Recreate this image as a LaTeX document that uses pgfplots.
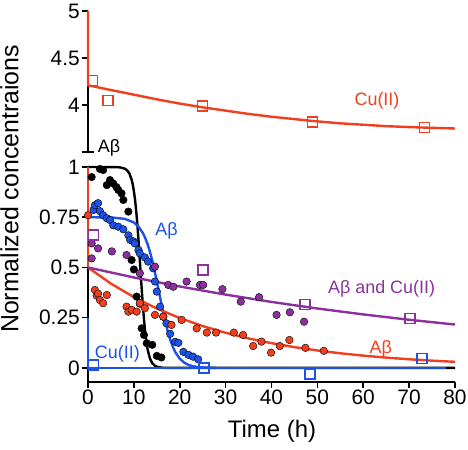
\documentclass[border=0pt]{standalone}
\usepackage{fontspec}
\setmainfont{Liberation Sans}
\usepackage{pgfplots}
\pgfplotsset{compat=1.18}
\definecolor{cred}{RGB}{240,62,30}
\definecolor{cblue}{RGB}{28,82,232}
\definecolor{cpurple}{RGB}{140,48,158}
\begin{document}
\begin{tikzpicture}
\pgfplotsset{
  base/.style={scale only axis, width=367bp, xmin=0, xmax=80, clip=false,
    axis line style={line width=1.6bp, black},
    tick style={line width=1.6bp, black},
    major tick length=6bp, tick align=outside,
    /pgf/number format/assume math mode=true,
    tick label style={font=\fontsize{21}{24}\selectfont},
    yticklabel style={inner xsep=2bp},
    xticklabel style={inner ysep=2bp},
  },
  dots/.style={only marks, mark=*, mark size=3.8bp, draw=none},
  sq/.style={only marks, mark=square, mark size=5bp, mark options={line width=1.4bp, fill=white}},
  fit/.style={no marks, line width=2.4bp},
}
% ---------------- lower axis ----------------
\begin{axis}[base, at={(88bp,68bp)}, anchor=south west, height=215bp,
  ymin=-0.07, ymax=1,
  axis x line*=bottom, axis y line*=left,
  xtick={0,10,20,30,40,50,60,70,80}, xticklabels={0,10,20,30,40,50,60,70,80},
  ytick={0,0.25,0.5,0.75,1}, yticklabels={0,0.25,0.5,0.75,1},
]
% dots
\addplot[dots, fill=black] coordinates {(0.8,0.95)(2.6,0.99)(3.3,0.985)(4.1,0.91)(4.8,0.935)(5.5,0.918)(6.2,0.90)(6.6,0.886)(7.3,0.869)(7.7,0.836)(8.8,0.778)(9.5,0.537)(10.0,0.49)(10.6,0.355)(11.3,0.32)(11.7,0.197)(12.2,0.164)(12.8,0.123)(14.0,0.115)(15.0,0.06)(16.0,0.052)};
\addplot[dots, fill=cblue] coordinates {(1.2,0.786)(1.5,0.81)(2.2,0.82)(2.6,0.78)(3.3,0.76)(4.1,0.745)(4.8,0.736)(5.5,0.71)(6.6,0.703)(7.7,0.69)(8.8,0.66)(9.2,0.637)(9.9,0.63)(10.2,0.62)(11.0,0.587)(11.3,0.57)(12.4,0.55)(13.1,0.529)(14.2,0.496)(14.6,0.43)(15.0,0.38)(15.7,0.305)(16.4,0.255)(17.1,0.222)(17.9,0.17)(19.0,0.13)(19.7,0.125)(20.8,0.08)(21.9,0.065)(22.9,0.056)(24.0,0.043)};
\addplot[dots, fill=cred] coordinates {(0,0.76)(1.5,0.388)(1.9,0.36)(2.2,0.37)(2.6,0.338)(3.3,0.322)(4.1,0.363)(8.4,0.305)(8.8,0.28)(9.5,0.289)(10.6,0.28)(11.3,0.322)(12.4,0.297)(14.6,0.264)(16.4,0.255)(18.2,0.214)(20.4,0.239)(23.7,0.197)(25.9,0.176)(27.9,0.176)(31.8,0.176)(33.8,0.164)(36.0,0.109)(37.8,0.131)(39.9,0.076)(41.8,0.109)(43.9,0.139)(47.4,0.10)(51.4,0.085)};
\addplot[dots, fill=cpurple] coordinates {(0.8,0.62)(0.8,0.545)(2.2,0.595)(5.2,0.58)(8.4,0.562)(11.3,0.471)(14.6,0.504)(17.5,0.413)(18.6,0.404)(21.5,0.43)(24.4,0.413)(25.1,0.413)(29.3,0.392)(33.3,0.33)(37.3,0.352)(41.1,0.264)(44.0,0.277)(47.1,0.23)};
% fits
\addplot[fit, black] coordinates {(0,1)(6,0.9995)(7,0.998)(8,0.992)(8.5,0.984)(9,0.969)(9.5,0.938)(9.75,0.9135)(10,0.881)(10.25,0.838)(10.5,0.783)(10.75,0.717)(11,0.639)(11.25,0.553)(11.5,0.464)(11.75,0.378)(12,0.298)(12.25,0.229)(12.5,0.172)(12.75,0.127)(13,0.092)(13.5,0.047)(14,0.024)(14.5,0.012)(15,0.006)(16,0.0014)(17,0.0003)(18,0)(80,0)};
\addplot[fit, cblue] coordinates {(0,0.75)(5,0.749)(8,0.742)(10,0.724)(11,0.704)(12,0.670)(12.5,0.645)(13,0.615)(13.5,0.578)(14,0.535)(14.5,0.485)(15,0.431)(15.5,0.375)(16,0.319)(16.5,0.265)(17,0.2155)(17.5,0.172)(18,0.135)(18.5,0.105)(19,0.080)(20,0.046)(21,0.026)(22,0.014)(23,0.008)(24,0.004)(26,0.0013)(28,0)};
\addplot[fit, cblue] coordinates {(0,0.25)(0,0)(78,0)};
\addplot[fit, cred] coordinates {(0,1)(0,0.5)};
\addplot[fit, cred] coordinates {(0,0.5)(5,0.4197)(10,0.3523)(15,0.2958)(20,0.2483)(25,0.2084)(30,0.1749)(35,0.1468)(40,0.1233)(45,0.1035)(50,0.0869)(55,0.0729)(60,0.0612)(65,0.0514)(70,0.0431)(75,0.0362)(80,0.0304)};
\addplot[fit, cpurple] coordinates {(0,0.5)(10,0.4502)(20,0.4053)(30,0.3649)(40,0.3285)(50,0.2958)(60,0.2663)(70,0.2397)(80,0.2159)};
% squares
\addplot[sq, cpurple] coordinates {(1.2,0.662)(25.1,0.488)(47.3,0.317)(70.2,0.247)};
\addplot[sq, cblue] coordinates {(1.2,0.015)(25.3,0)(48.4,-0.03)(72.8,0.048)};
% labels
\node[text=black, font=\fontsize{18}{20}\selectfont] at (axis cs:4.6,1.097) {Aβ};
\node[text=cblue, font=\fontsize{18}{20}\selectfont] at (axis cs:17.1,0.68) {Aβ};
\node[text=cpurple, font=\fontsize{18}{20}\selectfont] at (axis cs:64.0,0.393) {Aβ and Cu(II)};
\node[text=cred, font=\fontsize{18}{20}\selectfont] at (axis cs:63.8,0.097) {Aβ};
\node[text=cblue, font=\fontsize{18}{20}\selectfont] at (axis cs:6.4,0.069) {Cu(II)};
\end{axis}
% ---------------- upper axis ----------------
\begin{axis}[base, at={(88bp,298bp)}, anchor=south west, height=141bp,
  ymin=3.5, ymax=5,
  axis x line=none, axis y line*=left,
  ytick={4,4.5,5}, yticklabels={4,4.5,5},
  extra y ticks={3.5}, extra y tick labels={},
  extra y tick style={tick align=center, major tick length=12bp},
]
\addplot[fit, cred] coordinates {(0,5)(0,4.21)(4.4,4.165)(10,4.11)(15,4.06)(20,4.015)(25,3.975)(30,3.94)(35,3.905)(40,3.875)(49,3.83)(55,3.805)(60,3.79)(65,3.775)(70,3.765)(75,3.757)(80,3.75)};
\addplot[sq, cred] coordinates {(1.0,4.26)(4.4,4.05)(25,3.99)(49,3.82)(73.4,3.76)};
\node[text=cred, font=\fontsize{18}{20}\selectfont] at (axis cs:63.0,4.045) {Cu(II)};
\end{axis}
% axis titles
\node[anchor=base, font=\fontsize{24}{28}\selectfont] at (272bp,13bp) {Time (h)};
\node[anchor=base, rotate=90, font=\fontsize{25}{28}\selectfont] at (18.3bp,261bp) {Normalized concentraions};
\pgfresetboundingbox
\path (0bp,0bp) rectangle (468bp,450bp);
\end{tikzpicture}
\end{document}
